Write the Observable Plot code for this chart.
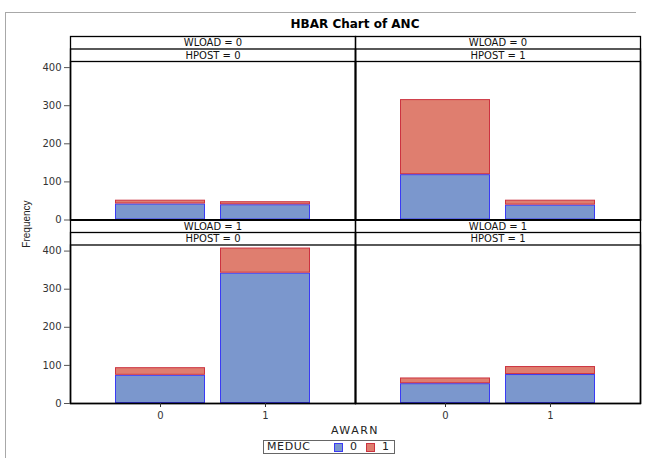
<!DOCTYPE html>
<html><head><meta charset="utf-8">
<script src="https://cdn.jsdelivr.net/npm/d3@7"></script>
<script src="https://cdn.jsdelivr.net/npm/@observablehq/plot@0.6"></script>
<style>
body{margin:0;background:#fff;font-family:"DejaVu Sans",sans-serif;}
#wrap{position:relative;width:645px;height:458px;overflow:hidden;background:#fff;}
#wrap svg{position:absolute;left:0;top:0;}
.outer{position:absolute;left:5px;top:12px;width:630px;height:460px;border-left:1px solid #a8a8a8;border-top:1px solid #a8a8a8;}
.title{position:absolute;left:70px;width:570px;top:17px;text-align:center;font:bold 12px "DejaVu Sans",sans-serif;color:#000;}
.xlab{position:absolute;left:70px;width:570px;top:424px;text-align:center;font:11px "DejaVu Sans",sans-serif;letter-spacing:1.5px;color:#222;}
.ylab{position:absolute;left:26px;top:224px;transform:translate(-50%,-50%) rotate(-90deg);font:10px "Liberation Sans",sans-serif;color:#222;white-space:nowrap;}
.legend{position:absolute;left:263px;top:440px;width:130px;height:12px;border:1px solid #666;font:11px "DejaVu Sans",sans-serif;color:#222;}
.legend span{position:absolute;top:-1px;line-height:13px;}
.legend i{position:absolute;top:2px;width:7px;height:7px;border:1px solid;}
</style></head><body>
<div id="wrap"></div>
<script>
// Panel keys (one entry per panel)
const panelWload = ["0", "0", "1", "1"];
const panelHpost = ["0", "1", "0", "1"];
// AWARN categories within each panel
const awarnCats = ["0", "1"];
// Frequencies per panel x AWARN (order: panel 1 AWARN 0, panel 1 AWARN 1, panel 2 ...)
const meduc0 = [42, 40, 119, 39, 74, 342, 52, 76];
const meduc1 = [10, 8, 197, 13, 20, 66, 15, 21];
const meducCats = ["0", "1"];
const yTicks = [0, 100, 200, 300, 400];

const fillColors = {"0": "#7b97cd", "1": "#df7e6f"};
const strokeColors = {"0": "#3a3af5", "1": "#cc3340"};

const rows = [];
panelWload.forEach((w, p) => {
  awarnCats.forEach((a, j) => {
    const i = p * 2 + j;
    rows.push({WLOAD: w, HPOST: panelHpost[p], AWARN: a, MEDUC: "0", n: meduc0[i]});
    rows.push({WLOAD: w, HPOST: panelHpost[p], AWARN: a, MEDUC: "1", n: meduc1[i]});
  });
});
const panels = panelWload.map((w, p) => ({WLOAD: w, HPOST: panelHpost[p]}));

const chart = Plot.plot({
  width: 645, height: 458,
  marginLeft: 70, marginRight: 5, marginTop: 61, marginBottom: 55,
  style: {fontFamily: "DejaVu Sans, sans-serif", fontSize: "10px", color: "#333", background: "transparent", overflow: "visible"},
  fx: {domain: ["0", "1"], padding: 0, axis: null, round: false},
  fy: {domain: ["0", "1"], paddingInner: 0.1362, paddingOuter: 0, axis: null, round: false},
  x: {domain: awarnCats, paddingInner: 0.1429, paddingOuter: 0.4286, round: false, axis: null},
  y: {domain: [0, 416], axis: null},
  color: {type: "identity"},
  marks: [
    Plot.barY(rows, Plot.stackY({
      fx: "HPOST", fy: "WLOAD", x: "AWARN", y: "n",
      fill: d => fillColors[d.MEDUC], stroke: d => strokeColors[d.MEDUC],
      strokeWidth: 1, inset: 0.5
    })),
    Plot.frame({insetTop: -25, stroke: "#000", strokeWidth: 1.3}),
    Plot.frame({insetTop: -12.5, stroke: "#000", strokeWidth: 1.3}),
    Plot.frame({stroke: "#000", strokeWidth: 1.3}),
    Plot.text(panels, {fx: "HPOST", fy: "WLOAD", frameAnchor: "top", lineAnchor: "middle", dy: -18.5,
      text: d => `WLOAD = ${d.WLOAD}`, fill: "#111", fontSize: 10}),
    Plot.text(panels, {fx: "HPOST", fy: "WLOAD", frameAnchor: "top", lineAnchor: "middle", dy: -6,
      text: d => `HPOST = ${d.HPOST}`, fill: "#111", fontSize: 10}),
    Plot.axisY({ticks: yTicks, tickSize: 6, tickPadding: 3, label: null, stroke: "#555", fill: "#333"}),
    Plot.axisX({tickSize: 4, tickPadding: 4, label: null, stroke: "#333", fill: "#333"})
  ]
});

const wrap = document.getElementById("wrap");
wrap.innerHTML = `<div class="outer"></div><div class="title">HBAR Chart of ANC</div>`;
wrap.appendChild(chart);
const extra = document.createElement("div");
extra.innerHTML = `<div class="xlab">AWARN</div><div class="ylab">Frequency</div>
<div class="legend"><span style="left:3px;letter-spacing:0.6px">MEDUC</span>
<i style="left:70px;background:${fillColors["0"]};border-color:${strokeColors["0"]}"></i><span style="left:86px">${meducCats[0]}</span>
<i style="left:102px;background:${fillColors["1"]};border-color:${strokeColors["1"]}"></i><span style="left:118px">${meducCats[1]}</span></div>`;
while (extra.firstChild) wrap.appendChild(extra.firstChild);
</script>
</body></html>
